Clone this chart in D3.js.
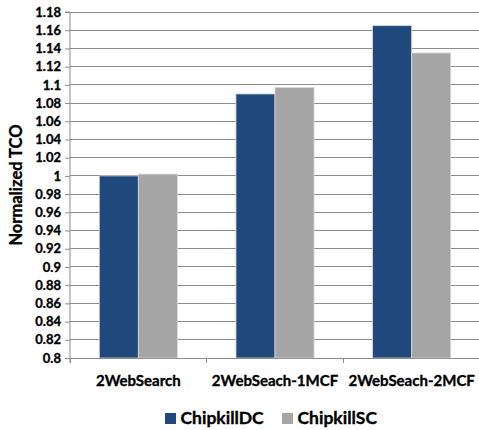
<!DOCTYPE html>
<html>
<head>
<meta charset="utf-8">
<script src="https://cdn.jsdelivr.net/npm/d3@7"></script>
<style>
  html, body { margin: 0; padding: 0; background: #fff; }
  text { font-family: Lato, "Open Sans", "Liberation Sans", sans-serif; font-weight: bold; fill: #000;
         stroke: #000; stroke-width: 0.35px; }
</style>
</head>
<body>
<svg id="chart" width="479" height="430"></svg>
<script>
// Workload configurations and normalized TCO per chipkill scheme
const categories = ["2WebSearch", "2WebSeach-1MCF", "2WebSeach-2MCF"];
const seriesNames = ["ChipkillDC", "ChipkillSC"];
const chipkillDC = [1.000, 1.090, 1.165];
const chipkillSC = [1.002, 1.097, 1.135];
const yTicks = [0.8, 0.82, 0.84, 0.86, 0.88, 0.9, 0.92, 0.94, 0.96, 0.98, 1,
                1.02, 1.04, 1.06, 1.08, 1.1, 1.12, 1.14, 1.16, 1.18];
const colors = ["#1F497D", "#A5A5A5"];

const svg = d3.select("#chart");
const plotLeft = 70, plotRight = 480, plotTop = 12, plotBottom = 358;

const x0 = d3.scaleBand().domain(categories).range([plotLeft, plotRight]).padding(0);
const x1 = d3.scaleBand().domain(seriesNames)
  .range([0, x0.bandwidth()]).paddingInner(0).paddingOuter(0.75);
const y = d3.scaleLinear().domain([0.8, 1.18]).range([plotBottom, plotTop]);

// Horizontal gridlines
svg.append("g").selectAll("line").data(yTicks).join("line")
  .attr("x1", plotLeft).attr("x2", plotRight)
  .attr("y1", d => y(d)).attr("y2", d => y(d))
  .attr("stroke", "#8c8c8c").attr("stroke-width", 1)
  .attr("shape-rendering", "crispEdges");

// Bars
const rows = categories.map((c, i) => ({ cat: c, vals: [chipkillDC[i], chipkillSC[i]] }));
const groups = svg.append("g").selectAll("g").data(rows).join("g")
  .attr("transform", d => `translate(${x0(d.cat)},0)`);
groups.selectAll("rect").data(d => d.vals.map((v, j) => ({ name: seriesNames[j], v, j })))
  .join("rect")
  .attr("x", d => x1(d.name))
  .attr("width", x1.bandwidth())
  .attr("y", d => y(d.v))
  .attr("height", d => y(0.8) - y(d.v))
  .attr("fill", d => colors[d.j])
  .attr("stroke", "#d9d9d9").attr("stroke-width", 0.8);

// Y axis
const yAxis = d3.axisLeft(y).tickValues(yTicks).tickSize(5).tickPadding(4)
  .tickFormat(d => d3.format("")(+d.toFixed(2)));
const gy = svg.append("g").attr("transform", `translate(${plotLeft},0)`).call(yAxis);
gy.select(".domain").attr("stroke", "#8c8c8c").attr("d", `M-5,${plotTop}H0V${plotBottom + 5}`);
gy.selectAll(".tick line").attr("stroke", "#8c8c8c");
gy.selectAll(".tick text").style("font-size", "13px").attr("fill", "#000");

// X axis
const xAxis = d3.axisBottom(x0).tickSize(0).tickPadding(17);
const gx = svg.append("g").attr("transform", `translate(0,${plotBottom})`).call(xAxis);
gx.select(".domain").attr("stroke", "#8c8c8c");
gx.selectAll(".tick text").style("font-size", "15px").attr("fill", "#000");
gx.append("g").selectAll("line").data(categories).join("line")
  .attr("x1", d => x0(d)).attr("x2", d => x0(d))
  .attr("y1", 0).attr("y2", 5)
  .attr("stroke", "#8c8c8c").attr("shape-rendering", "crispEdges");

// Y axis title
svg.append("text")
  .attr("transform", `translate(22,${(plotTop + plotBottom) / 2}) rotate(-90)`)
  .attr("text-anchor", "middle")
  .style("font-size", "16.5px")
  .text("Normalized TCO");

// Legend
const legendItems = [
  { name: seriesNames[0], color: colors[0], x: 165 },
  { name: seriesNames[1], color: colors[1], x: 282 }
];
const lg = svg.append("g").selectAll("g").data(legendItems).join("g")
  .attr("transform", d => `translate(${d.x},413)`);
lg.append("rect").attr("width", 11).attr("height", 11).attr("fill", d => d.color);
lg.append("text").attr("x", 15.5).attr("y", 11).style("font-size", "17.5px").text(d => d.name);
</script>
</body>
</html>
